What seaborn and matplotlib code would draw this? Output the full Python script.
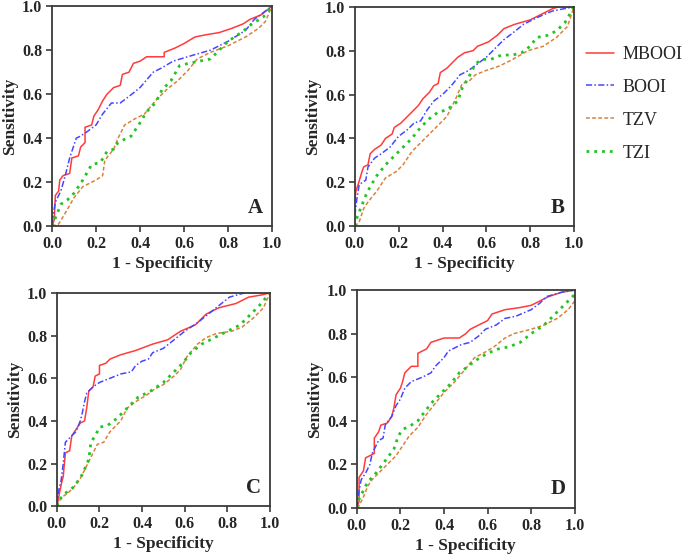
import matplotlib
matplotlib.use("Agg")
import matplotlib.pyplot as plt
import seaborn as sns
import pandas as pd

# ROC points (1 - specificity, sensitivity)
MBOOI_A = [(0, 0), (0.01, 0.03), (0.015, 0.14), (0.03, 0.16), (0.035, 0.21), (0.05, 0.23), (0.08, 0.24),
           (0.09, 0.31), (0.12, 0.32), (0.13, 0.36), (0.15, 0.38), (0.15, 0.45), (0.18, 0.46), (0.19, 0.50),
           (0.21, 0.53), (0.23, 0.57), (0.25, 0.60), (0.28, 0.63), (0.31, 0.64), (0.32, 0.69), (0.35, 0.70),
           (0.37, 0.74), (0.40, 0.75), (0.43, 0.77), (0.51, 0.77), (0.51, 0.79), (0.56, 0.81), (0.60, 0.83),
           (0.65, 0.86), (0.70, 0.87), (0.76, 0.88), (0.82, 0.90), (0.87, 0.92), (0.90, 0.94), (0.95, 0.96), (1, 1)]
BOOI_A = [(0, 0.02), (0.015, 0.11), (0.04, 0.16), (0.06, 0.23), (0.08, 0.31), (0.11, 0.40), (0.13, 0.41),
          (0.16, 0.43), (0.20, 0.46), (0.23, 0.51), (0.27, 0.56), (0.31, 0.56), (0.35, 0.59), (0.40, 0.63),
          (0.46, 0.70), (0.50, 0.72), (0.55, 0.75), (0.65, 0.78), (0.72, 0.80), (0.80, 0.84), (0.88, 0.89),
          (0.92, 0.94), (0.96, 0.97), (1, 1)]
TZV_A = [(0, 0), (0.03, 0.01), (0.06, 0.06), (0.10, 0.13), (0.14, 0.18), (0.20, 0.21), (0.23, 0.23),
         (0.24, 0.30), (0.28, 0.35), (0.30, 0.40), (0.33, 0.46), (0.38, 0.49), (0.42, 0.51), (0.47, 0.57),
         (0.52, 0.62), (0.57, 0.66), (0.62, 0.71), (0.66, 0.76), (0.72, 0.79), (0.80, 0.82), (0.88, 0.86),
         (0.94, 0.90), (0.97, 0.93), (1, 1)]
TZI_A = [(0, 0), (0.02, 0.05), (0.04, 0.10), (0.07, 0.12), (0.10, 0.15), (0.14, 0.21), (0.18, 0.28),
         (0.22, 0.29), (0.25, 0.34), (0.28, 0.35), (0.30, 0.38), (0.36, 0.41), (0.40, 0.47), (0.43, 0.52),
         (0.47, 0.56), (0.50, 0.62), (0.54, 0.66), (0.58, 0.73), (0.62, 0.74), (0.67, 0.75), (0.72, 0.76),
         (0.76, 0.80), (0.80, 0.84), (0.86, 0.88), (0.91, 0.92), (0.96, 0.95), (1, 1)]

MBOOI_B = [(0, 0.12), (0.005, 0.16), (0.015, 0.19), (0.03, 0.24), (0.04, 0.27), (0.06, 0.28), (0.07, 0.33),
           (0.09, 0.35), (0.12, 0.37), (0.14, 0.40), (0.17, 0.42), (0.18, 0.45), (0.21, 0.47), (0.23, 0.49),
           (0.26, 0.52), (0.29, 0.55), (0.31, 0.58), (0.34, 0.61), (0.36, 0.64), (0.38, 0.65), (0.39, 0.70),
           (0.42, 0.72), (0.45, 0.75), (0.47, 0.77), (0.50, 0.79), (0.54, 0.80), (0.56, 0.82), (0.61, 0.84),
           (0.65, 0.87), (0.68, 0.90), (0.73, 0.92), (0.80, 0.94), (0.84, 0.96), (0.90, 0.99), (0.93, 1.0), (1, 1)]
BOOI_B = [(0, 0.05), (0.01, 0.13), (0.02, 0.19), (0.05, 0.21), (0.06, 0.27), (0.09, 0.31), (0.12, 0.33),
          (0.16, 0.36), (0.20, 0.41), (0.24, 0.44), (0.27, 0.47), (0.30, 0.48), (0.33, 0.53), (0.36, 0.57),
          (0.40, 0.60), (0.44, 0.64), (0.48, 0.69), (0.52, 0.71), (0.56, 0.74), (0.60, 0.77), (0.64, 0.81),
          (0.68, 0.85), (0.72, 0.88), (0.77, 0.92), (0.83, 0.95), (0.90, 0.98), (1, 1)]
TZV_B = [(0, 0), (0.02, 0.02), (0.04, 0.08), (0.06, 0.11), (0.10, 0.16), (0.14, 0.22), (0.19, 0.25),
         (0.22, 0.28), (0.26, 0.34), (0.30, 0.38), (0.34, 0.42), (0.38, 0.46), (0.42, 0.50), (0.46, 0.58),
         (0.49, 0.65), (0.52, 0.66), (0.55, 0.69), (0.60, 0.71), (0.66, 0.73), (0.72, 0.76), (0.79, 0.80),
         (0.86, 0.82), (0.92, 0.86), (0.97, 0.91), (1, 1)]
TZI_B = [(0, 0), (0.01, 0.04), (0.03, 0.09), (0.05, 0.14), (0.07, 0.18), (0.10, 0.23), (0.14, 0.28),
         (0.18, 0.32), (0.22, 0.36), (0.26, 0.40), (0.30, 0.45), (0.34, 0.49), (0.38, 0.52), (0.42, 0.53),
         (0.47, 0.57), (0.49, 0.63), (0.52, 0.68), (0.55, 0.74), (0.58, 0.76), (0.62, 0.76), (0.67, 0.78),
         (0.72, 0.78), (0.76, 0.79), (0.80, 0.82), (0.83, 0.86), (0.88, 0.87), (0.92, 0.89), (0.96, 0.93), (1, 1)]

MBOOI_C = [(0, 0), (0.01, 0.05), (0.02, 0.10), (0.03, 0.14), (0.04, 0.25), (0.06, 0.26), (0.07, 0.33),
           (0.09, 0.36), (0.11, 0.39), (0.13, 0.40), (0.14, 0.46), (0.15, 0.54), (0.17, 0.56), (0.18, 0.61),
           (0.20, 0.62), (0.20, 0.66), (0.23, 0.67), (0.25, 0.69), (0.30, 0.71), (0.37, 0.73), (0.45, 0.76),
           (0.52, 0.78), (0.58, 0.82), (0.65, 0.85), (0.70, 0.90), (0.76, 0.93), (0.84, 0.95), (0.90, 0.98),
           (0.96, 0.99), (1, 1)]
BOOI_C = [(0, 0), (0.01, 0.08), (0.02, 0.12), (0.03, 0.20), (0.04, 0.30), (0.06, 0.32), (0.09, 0.35),
          (0.11, 0.40), (0.12, 0.44), (0.13, 0.49), (0.14, 0.53), (0.17, 0.56), (0.20, 0.58), (0.25, 0.60),
          (0.30, 0.62), (0.35, 0.63), (0.37, 0.66), (0.40, 0.68), (0.43, 0.69), (0.45, 0.72), (0.50, 0.74),
          (0.55, 0.78), (0.60, 0.82), (0.66, 0.86), (0.71, 0.90), (0.76, 0.94), (0.81, 0.98), (0.88, 1.0), (1, 1)]
TZV_C = [(0, 0), (0.02, 0.04), (0.05, 0.06), (0.08, 0.09), (0.11, 0.13), (0.14, 0.19), (0.17, 0.25),
         (0.19, 0.29), (0.22, 0.30), (0.25, 0.35), (0.30, 0.40), (0.33, 0.46), (0.37, 0.49), (0.42, 0.52),
         (0.46, 0.55), (0.50, 0.57), (0.55, 0.61), (0.58, 0.64), (0.61, 0.70), (0.66, 0.76), (0.70, 0.79),
         (0.75, 0.81), (0.82, 0.82), (0.87, 0.84), (0.92, 0.88), (0.97, 0.93), (1, 1)]
TZI_C = [(0, 0), (0.02, 0.04), (0.05, 0.07), (0.08, 0.09), (0.12, 0.15), (0.15, 0.22), (0.16, 0.30),
         (0.18, 0.33), (0.20, 0.37), (0.24, 0.38), (0.28, 0.41), (0.33, 0.46), (0.38, 0.51), (0.44, 0.54),
         (0.50, 0.58), (0.55, 0.63), (0.59, 0.67), (0.63, 0.72), (0.68, 0.76), (0.74, 0.79), (0.80, 0.82),
         (0.86, 0.85), (0.90, 0.89), (0.95, 0.94), (1, 1)]

MBOOI_D = [(0, 0), (0.01, 0.03), (0.01, 0.14), (0.03, 0.17), (0.04, 0.23), (0.06, 0.24), (0.08, 0.25),
           (0.08, 0.32), (0.10, 0.35), (0.11, 0.38), (0.14, 0.39), (0.16, 0.42), (0.17, 0.46), (0.18, 0.52),
           (0.20, 0.55), (0.21, 0.58), (0.22, 0.62), (0.24, 0.64), (0.25, 0.65), (0.28, 0.65), (0.28, 0.71),
           (0.32, 0.73), (0.34, 0.76), (0.37, 0.77), (0.40, 0.78), (0.47, 0.78), (0.50, 0.80), (0.52, 0.82),
           (0.56, 0.84), (0.60, 0.86), (0.62, 0.89), (0.68, 0.91), (0.75, 0.92), (0.80, 0.93), (0.84, 0.95),
           (0.88, 0.97), (0.94, 0.99), (1, 1)]
BOOI_D = [(0, 0), (0.01, 0.08), (0.02, 0.13), (0.04, 0.16), (0.06, 0.20), (0.07, 0.25), (0.09, 0.29),
          (0.10, 0.31), (0.12, 0.32), (0.13, 0.38), (0.16, 0.42), (0.18, 0.47), (0.20, 0.50), (0.22, 0.55),
          (0.25, 0.58), (0.30, 0.60), (0.34, 0.62), (0.36, 0.65), (0.40, 0.69), (0.42, 0.72), (0.48, 0.75),
          (0.52, 0.76), (0.56, 0.79), (0.59, 0.82), (0.64, 0.84), (0.68, 0.87), (0.73, 0.88), (0.80, 0.91),
          (0.84, 0.94), (0.87, 0.97), (0.94, 0.99), (1, 1)]
TZV_D = [(0, 0), (0.01, 0.01), (0.03, 0.05), (0.05, 0.10), (0.07, 0.13), (0.10, 0.16), (0.14, 0.20),
         (0.18, 0.24), (0.20, 0.27), (0.24, 0.33), (0.28, 0.37), (0.32, 0.43), (0.36, 0.48), (0.40, 0.53),
         (0.45, 0.58), (0.50, 0.64), (0.54, 0.69), (0.58, 0.71), (0.63, 0.74), (0.68, 0.78), (0.72, 0.80),
         (0.80, 0.82), (0.86, 0.84), (0.92, 0.87), (0.97, 0.91), (1, 0.95), (1, 1)]
TZI_D = [(0, 0), (0.01, 0.04), (0.03, 0.08), (0.05, 0.12), (0.08, 0.15), (0.11, 0.19), (0.14, 0.23),
         (0.17, 0.27), (0.19, 0.33), (0.21, 0.36), (0.25, 0.38), (0.28, 0.40), (0.31, 0.44), (0.35, 0.49),
         (0.39, 0.53), (0.43, 0.57), (0.47, 0.62), (0.51, 0.65), (0.55, 0.68), (0.60, 0.71), (0.65, 0.73),
         (0.70, 0.74), (0.75, 0.76), (0.80, 0.80), (0.86, 0.84), (0.91, 0.89), (0.96, 0.94), (1, 0.98), (1, 1)]

PANELS = ["A", "B", "C", "D"]
CURVES = {
    "A": [MBOOI_A, BOOI_A, TZV_A, TZI_A],
    "B": [MBOOI_B, BOOI_B, TZV_B, TZI_B],
    "C": [MBOOI_C, BOOI_C, TZV_C, TZI_C],
    "D": [MBOOI_D, BOOI_D, TZV_D, TZI_D],
}
SERIES = ["MBOOI", "BOOI", "TZV", "TZI"]
TICKS = [0.0, 0.2, 0.4, 0.6, 0.8, 1.0]

# ─── styles ───────────────────────────────────────────────────────────────────
COLORS = ["#ff3b3b", "#4646ff", "#d9823b", "#22c422"]
STYLES = ["-", (0, (4, 1.5, 1, 1.5)), (0, (2.5, 1.5)), (0, (1, 1.8))]
WIDTHS = [1.1, 1.1, 1.1, 2.0]

# axes rectangles in figure fraction (left, bottom, width, height)
RECTS = {
    "A": [0.076, 0.596, 0.321, 0.393],
    "B": [0.518, 0.596, 0.320, 0.392],
    "C": [0.083, 0.096, 0.311, 0.381],
    "D": [0.521, 0.093, 0.318, 0.389],
}

sns.set_style("ticks")
plt.rcParams["font.family"] = ["Liberation Serif", "DejaVu Serif"]

fig = plt.figure(figsize=(6.85, 5.6), dpi=100)

for panel in PANELS:
    ax = fig.add_axes(RECTS[panel])
    for name, pts, c, ls, lw in zip(SERIES, CURVES[panel], COLORS, STYLES, WIDTHS):
        df = pd.DataFrame(pts, columns=["fpr", "tpr"])
        sns.lineplot(data=df, x="fpr", y="tpr", sort=False, estimator=None, ax=ax,
                     color=c, linestyle=ls, linewidth=lw, label=name, legend=False)
    ax.set_xlim(0, 1)
    ax.set_ylim(0, 1)
    ax.set_xticks(TICKS)
    ax.set_yticks(TICKS)
    ax.set_xticklabels([f"{t:.1f}" for t in TICKS], fontweight="bold", fontsize=11.5)
    ax.set_yticklabels([f"{t:.1f}" for t in TICKS], fontweight="bold", fontsize=11.5)
    ax.set_xlabel("1 - Specificity", fontweight="bold", fontsize=12.5, labelpad=3)
    ax.set_ylabel("Sensitivity", fontweight="bold", fontsize=12.5, labelpad=3)
    for sp in ax.spines.values():
        sp.set_color("#3a3a3a")
        sp.set_linewidth(1.3)
    ax.tick_params(direction="out", length=4, width=1.2, color="#3a3a3a", pad=3)
    ax.text(0.925, 0.085, panel, transform=ax.transAxes, ha="center", va="center",
            fontsize=15, fontweight="bold")
    if panel == "A":
        handles, labels = ax.get_legend_handles_labels()

fig.legend(handles, labels, loc="upper left", bbox_to_anchor=(0.832, 0.947),
           frameon=False, fontsize=13, handlelength=1.55, labelspacing=0.88, handletextpad=0.45)

fig.savefig("out.png", dpi=100)
plt.close(fig)
